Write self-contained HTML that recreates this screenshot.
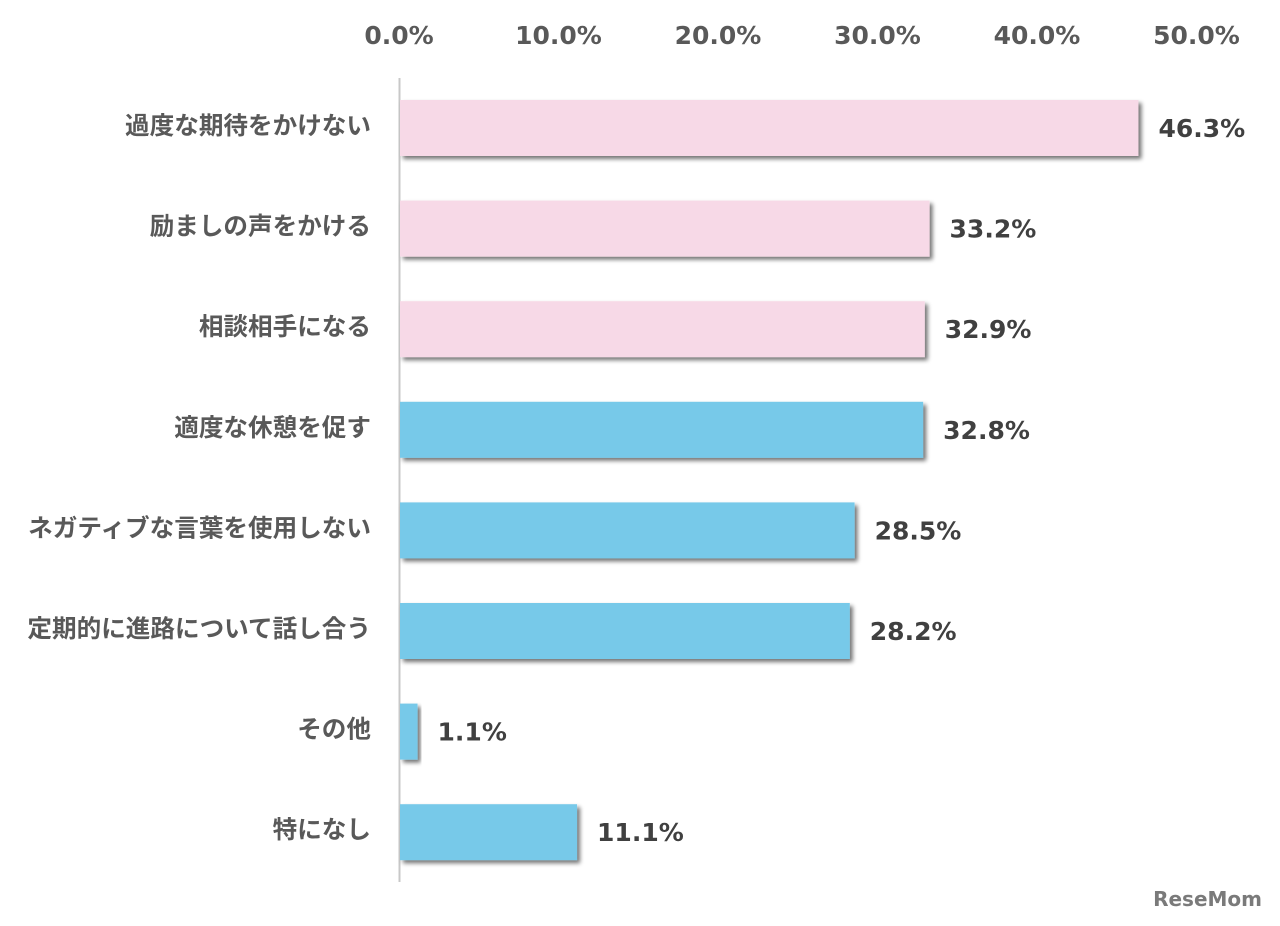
<!DOCTYPE html>
<html><head><meta charset="utf-8"><style>
html,body{margin:0;padding:0;background:#fff;}
svg text{font-family:"DejaVu Sans","Noto Sans CJK JP",sans-serif;font-weight:bold;}
svg text.jp{font-family:"Noto Sans CJK JP","DejaVu Sans",sans-serif;}
</style></head><body>
<svg id="chart" width="1280" height="921" viewBox="0 0 1280 921" xmlns="http://www.w3.org/2000/svg">
<defs><filter id="sh" x="-10%" y="-20%" width="130%" height="160%"><feGaussianBlur in="SourceAlpha" stdDeviation="2"/><feOffset dx="3" dy="3"/><feComponentTransfer><feFuncA type="linear" slope="0.55"/></feComponentTransfer><feMerge><feMergeNode/><feMergeNode in="SourceGraphic"/></feMerge></filter></defs>
<g id="ticks"></g>
<line x1="399.5" y1="78" x2="399.5" y2="882" stroke="#c8c8c8" stroke-width="2"/>
<g id="bars"></g>
<text x="1262" y="906" text-anchor="end" font-size="20" fill="#7a7a7a">ReseMom</text>
</svg>
<script>
const categories=["過度な期待をかけない","励ましの声をかける","相談相手になる","適度な休憩を促す","ネガティブな言葉を使用しない","定期的に進路について話し合う","その他","特になし"];
const values=[46.3,33.2,32.9,32.8,28.5,28.2,1.1,11.1];
const highlight=[true,true,true,false,false,false,false,false];
const tickValues=[0,10,20,30,40,50];
const tickLabels=["0.0%","10.0%","20.0%","30.0%","40.0%","50.0%"];
const NS="http://www.w3.org/2000/svg";
const x=v=>400+v*15.95;
const yTop=i=>100+i*100.6;
const bh=56;
const tg=document.getElementById('ticks');
tickValues.forEach((t,i)=>{
  const tx=document.createElementNS(NS,'text');
  
  
  tx.setAttribute('x',x(t)-1);tx.setAttribute('y',44);
  tx.setAttribute('text-anchor','middle');tx.setAttribute('font-size','25');tx.setAttribute('fill','#595959');
  tx.textContent=tickLabels[i];tg.appendChild(tx);
});
const bg=document.getElementById('bars');
categories.forEach((c,i)=>{
  const r=document.createElementNS(NS,'rect');
  
  
  r.setAttribute('x',400);r.setAttribute('y',yTop(i));
  r.setAttribute('width',x(values[i])-400);r.setAttribute('height',bh);
  r.setAttribute('fill',highlight[i]?'#f7d9e7':'#77c9e9');
  r.setAttribute('filter','url(#sh)');
  bg.appendChild(r);
  const l=document.createElementNS(NS,'text');
  
  
  l.setAttribute('class','jp');
  l.setAttribute('x',371);l.setAttribute('y',yTop(i)+bh/2+6);
  l.setAttribute('text-anchor','end');l.setAttribute('font-size','24.6');l.setAttribute('fill','#595959');
  l.textContent=c;bg.appendChild(l);
  const v=document.createElementNS(NS,'text');
  
  
  v.setAttribute('x',x(values[i])+20);v.setAttribute('y',yTop(i)+bh/2+9);
  v.setAttribute('font-size','25');v.setAttribute('fill','#404040');
  v.textContent=values[i].toFixed(1)+'%';bg.appendChild(v);
});
</script>
</body></html>
